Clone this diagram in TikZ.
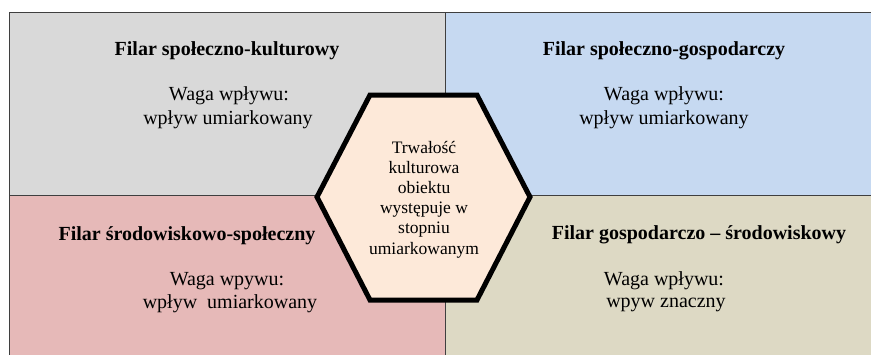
\documentclass[tikz,border=0pt]{standalone}
\usepackage{fontspec}
\setmainfont{Liberation Serif}
\definecolor{qgray}{HTML}{D9D9D9}
\definecolor{qblue}{HTML}{C6D9F1}
\definecolor{qpink}{HTML}{E6B9B8}
\definecolor{qtan}{HTML}{DDD9C4}
\definecolor{hexfill}{HTML}{FDE9D9}
\definecolor{edge}{HTML}{3F3F3F}
\tikzset{
  quad/.style={draw=edge, line width=0.9pt},
  ttl/.style={anchor=base, inner sep=0pt, font=\fontsize{20}{23}\selectfont\bfseries},
  txt/.style={anchor=base, inner sep=0pt, font=\fontsize{20}{23}\selectfont},
  hextxt/.style={anchor=base, inner sep=0pt, font=\fontsize{17.5}{20}\selectfont},
  hexline/.style={draw=black, line width=5pt, fill=hexfill, line join=miter}
}
\begin{document}
\begin{tikzpicture}[x=1pt,y=-1pt]
\useasboundingbox (0,0) rectangle (871,354);
\fill[white] (0,0) rectangle (871,354);
\begin{scope}
\clip (0,0) rectangle (871,354);
\draw[quad, fill=qgray] (9,12) rectangle (445,195);
\draw[quad, fill=qblue] (445,12) rectangle (880,195);
\draw[quad, fill=qpink] (9,195) rectangle (445,360);
\draw[quad, fill=qtan] (445,195) rectangle (880,360);
\end{scope}
% hexagon
\draw[hexline] (370,95) -- (477,95) -- (530,197) -- (477,300) -- (370,300) -- (317,197) -- cycle;
% top-left
\node[ttl] (tlT) at (227,55) {Filar społeczno-kulturowy};
\node[txt] (tlA) at (229,100) {Waga wpływu:};
\node[txt] (tlB) at (228,124) {wpływ umiarkowany};
% top-right
\node[ttl] (trT) at (664,55) {Filar społeczno-gospodarczy};
\node[txt] (trA) at (664,100) {Waga wpływu:};
\node[txt] (trB) at (664,124) {wpływ umiarkowany};
% bottom-left
\node[ttl] (blT) at (187,240) {Filar środowiskowo-społeczny};
\node[txt] (blA) at (227,285) {Waga wpywu:};
\node[txt] (blB) at (230,308) {wpływ\ \ umiarkowany};
% bottom-right
\node[ttl] (brT) at (699,239) {Filar gospodarczo – środowiskowy};
\node[txt] (brA) at (664,285) {Waga wpływu:};
\node[txt] (brB) at (666,307) {wpyw znaczny};
% hexagon text
\node[hextxt] (h1) at (424,153) {Trwałość};
\node[hextxt] (h2) at (424,173) {kulturowa};
\node[hextxt] (h3) at (424,193) {obiektu};
\node[hextxt] (h4) at (424,213) {występuje w};
\node[hextxt] (h5) at (424,233) {stopniu};
\node[hextxt] (h6) at (424,254) {umiarkowanym};
\end{tikzpicture}
\end{document}
